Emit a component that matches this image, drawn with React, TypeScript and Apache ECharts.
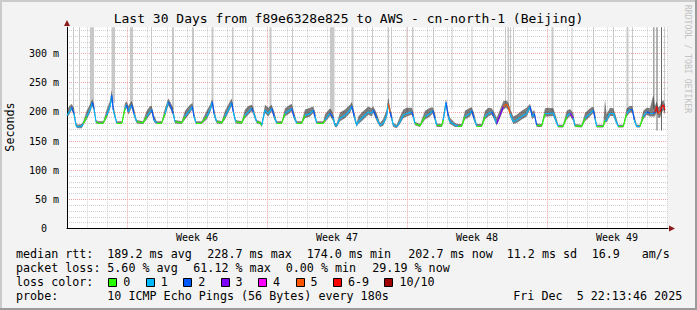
import React, { useEffect, useRef } from 'react';
import * as echarts from 'echarts';

const FONT = '"DejaVu Sans Mono", monospace';

// time in days since graph start
const times = [
  0.00, 0.125, 0.235, 0.35, 0.45, 0.525, 0.735, 0.815, 0.985, 1.15,
  1.265, 1.35, 1.45, 1.565, 1.815, 1.985, 2.15, 2.235, 2.315, 2.485,
  2.75, 2.90, 2.985, 3.065, 3.235, 3.35, 3.485, 3.80, 3.985, 4.15,
  4.235, 4.35, 4.485, 4.735, 4.90, 5.065, 5.185, 5.315, 5.40, 5.735,
  5.90, 6.15, 6.265, 6.35, 6.45, 6.735, 6.985, 7.15, 7.265, 7.35,
  7.485, 7.735, 7.90, 8.15, 8.235, 8.315, 8.435, 8.735, 8.90, 9.065,
  9.235, 9.315, 9.485, 9.65, 9.735, 9.90, 10.065, 10.235, 10.365, 10.485,
  10.735, 10.90, 11.15, 11.235, 11.35, 11.485, 11.735, 11.90, 12.15, 12.315,
  12.40, 12.485, 12.815, 12.90, 13.15, 13.315, 13.40, 13.485, 13.65, 13.90,
  14.15, 14.235, 14.365, 14.485, 14.565, 14.735, 15.065, 15.235, 15.315, 15.485,
  15.65, 15.815, 15.985, 16.065, 16.15, 16.235, 16.315, 16.485, 16.65, 16.815,
  16.985, 17.235, 17.315, 17.40, 17.65, 17.90, 18.15, 18.285, 18.40, 18.485,
  18.735, 18.815, 18.95, 19.065, 19.15, 19.40, 19.55, 19.735, 19.90, 20.15,
  20.235, 20.35, 20.485, 20.735, 20.90, 21.065, 21.235, 21.35, 21.485, 21.65,
  21.815, 21.95, 22.065, 22.15, 22.315, 22.485, 22.735, 22.985, 23.15, 23.265,
  23.365, 23.485, 23.735, 23.90, 24.065, 24.315, 24.435, 24.565, 24.80, 24.985,
  25.15, 25.315, 25.40, 25.735, 25.90, 26.15, 26.315, 26.40, 26.485, 26.815,
  26.90, 26.985, 27.15, 27.315, 27.435, 27.565, 27.815, 27.985, 28.15, 28.265,
  28.365, 28.485, 28.65, 28.815, 28.985, 29.15, 29.315, 29.40, 29.485, 29.565,
  29.65, 29.735, 29.815, 29.90,
];

// median rtt in ms
const medianMs = [
  194, 200, 208, 197, 177, 174.0, 175, 180, 192, 203,
  216, 206, 183, 181, 181, 194, 209, 228.7, 203, 181,
  181, 206, 212, 200, 212, 197, 183, 181, 192, 200,
  204, 186, 181, 181, 197, 217, 209, 197, 183, 181,
  192, 203, 209, 192, 181, 181, 192, 203, 217, 197,
  183, 181, 192, 209, 216, 200, 183, 181, 194, 200,
  206, 200, 183, 181, 177, 203, 197, 206, 192, 181,
  181, 197, 203, 206, 192, 181, 181, 194, 197, 203,
  192, 181, 181, 186, 198, 189, 177, 176, 189, 194,
  203, 210, 192, 177, 183, 189, 200, 197, 203, 189,
  177, 180, 194, 214, 200, 189, 177, 174.5, 183, 194,
  197, 200, 192, 180, 176, 192, 197, 202, 189, 177,
  176, 186, 216, 192, 183, 177, 176, 176, 192, 197,
  202, 189, 176, 176, 192, 197, 200, 192, 180, 194,
  209, 213, 209, 197, 183, 186, 192, 197, 209, 192,
  197, 177, 176, 197, 197, 198, 186, 175, 175, 192,
  198, 189, 176, 175, 189, 197, 203, 189, 175, 175,
  186, 186, 198, 198, 186, 175, 175, 197, 204, 204,
  186, 175, 175, 192, 200, 197, 197, 200, 209, 197,
  200, 209, 212, 203,
];

// lost pings out of 10
const lossCount = [
  1, 1, 2, 1, 1, 1, 1, 0, 1, 1,
  2, 1, 0, 0, 0, 1, 1, 2, 1, 0,
  0, 1, 2, 1, 2, 1, 0, 0, 1, 1,
  2, 1, 0, 0, 1, 2, 2, 1, 0, 0,
  1, 1, 2, 1, 0, 0, 1, 1, 2, 1,
  0, 0, 1, 1, 2, 1, 0, 0, 1, 1,
  2, 1, 0, 0, 1, 1, 1, 2, 1, 0,
  0, 1, 1, 2, 1, 0, 0, 1, 1, 2,
  1, 0, 0, 1, 2, 1, 1, 1, 1, 1,
  1, 2, 1, 1, 1, 1, 1, 1, 2, 1,
  1, 1, 1, 5, 2, 1, 1, 1, 1, 1,
  1, 2, 1, 0, 0, 1, 1, 2, 1, 0,
  0, 1, 2, 1, 1, 1, 0, 0, 1, 1,
  2, 1, 0, 0, 1, 1, 2, 1, 3, 3,
  5, 5, 5, 1, 1, 1, 1, 1, 2, 1,
  2, 0, 0, 1, 1, 1, 1, 0, 0, 1,
  3, 1, 0, 0, 1, 1, 2, 1, 0, 0,
  1, 1, 1, 1, 1, 0, 0, 1, 2, 2,
  1, 1, 0, 1, 2, 1, 2, 6, 6, 5,
  6, 6, 6, 3,
];

// smoke (spread of the individual pings)
const smokeHigh = [
  204, 210, 214, 206, 182, 178, 179, 184, 202, 213,
  222, 214, 186, 184, 184, 204, 219, 238, 212, 184,
  184, 215, 218, 210, 219, 206, 186, 184, 202, 210,
  210, 194, 184, 184, 206, 223, 216, 206, 186, 184,
  202, 212, 215, 200, 184, 184, 202, 212, 222, 206,
  186, 184, 202, 218, 223, 208, 186, 184, 204, 210,
  212, 208, 186, 184, 181, 212, 207, 212, 200, 184,
  184, 206, 212, 214, 200, 184, 184, 204, 207, 209,
  200, 184, 184, 196, 206, 198, 181, 180, 199, 204,
  212, 217, 200, 181, 192, 199, 209, 206, 209, 198,
  181, 188, 204, 224, 208, 198, 181, 178, 192, 204,
  207, 207, 200, 183, 179, 202, 207, 208, 198, 180,
  179, 195, 222, 200, 190, 181, 179, 179, 202, 207,
  208, 198, 179, 179, 202, 207, 206, 200, 190, 204,
  218, 220, 216, 206, 192, 195, 202, 207, 214, 200,
  203, 180, 179, 206, 207, 206, 194, 178, 178, 202,
  205, 198, 179, 178, 198, 206, 209, 198, 178, 178,
  221, 196, 207, 206, 194, 178, 178, 206, 210, 210,
  194, 178, 178, 202, 207, 206, 229, 210, 218, 208,
  210, 218, 220, 212,
];
const smokeLow = [
  190, 196, 203, 192, 174, 172, 172, 177, 187, 198,
  210, 200, 180, 179, 179, 189, 204, 220, 198, 179,
  179, 201, 207, 195, 207, 192, 180, 179, 187, 195,
  199, 182, 179, 179, 192, 211, 204, 192, 180, 179,
  187, 198, 204, 188, 179, 179, 187, 198, 211, 192,
  180, 179, 187, 204, 210, 195, 180, 179, 189, 195,
  201, 195, 180, 179, 174, 198, 192, 201, 187, 179,
  179, 192, 198, 201, 187, 179, 179, 189, 192, 198,
  187, 179, 179, 182, 193, 184, 174, 173, 184, 189,
  198, 205, 187, 174, 179, 184, 195, 192, 198, 184,
  174, 176, 189, 208, 195, 184, 174, 172, 179, 189,
  192, 195, 187, 177, 174, 187, 192, 197, 184, 174,
  174, 181, 210, 187, 179, 174, 174, 174, 187, 192,
  197, 184, 174, 174, 187, 192, 195, 187, 176, 189,
  203, 207, 203, 192, 179, 181, 187, 192, 204, 187,
  192, 174, 174, 192, 192, 193, 182, 173, 173, 187,
  193, 184, 174, 173, 184, 192, 198, 184, 173, 173,
  182, 182, 193, 193, 182, 173, 173, 192, 199, 199,
  182, 173, 173, 187, 195, 192, 192, 192, 200, 190,
  190, 198, 203, 195,
];

// outlier streaks (pings far above the visible range), in days
const spikeStart = [
  0.30, 0.60, 1.15, 2.225, 3.15, 4.20, 5.25, 6.25, 7.225, 8.25,
  9.25, 10.125, 11.25, 13.15, 14.225, 15.25, 16.05, 16.20, 16.975, 17.25,
  18.30, 19.225, 20.225, 21.30, 21.90, 22.05, 22.15, 22.30, 24.225, 25.225,
  26.30, 27.30, 27.975, 28.25, 29.30, 29.475, 29.70, 29.85,
];
const spikeEnd = [
  0.35, 0.65, 1.35, 2.40, 3.30, 4.25, 5.35, 6.35, 7.325, 8.325,
  9.325, 10.225, 11.30, 13.375, 14.325, 15.30, 16.10, 16.25, 17.025, 17.325,
  18.35, 19.275, 20.275, 21.35, 21.95, 22.10, 22.20, 22.35, 24.325, 25.275,
  26.35, 27.35, 28.075, 28.30, 29.375, 29.525, 29.75, 29.90,
];
const spikeLow = [
  205, 195, 210, 215, 210, 205, 205, 205, 210, 210,
  205, 205, 205, 200, 205, 200, 210, 205, 200, 200,
  200, 205, 200, 200, 210, 210, 205, 200, 200, 200,
  200, 200, 200, 205, 205, 168, 168, 200,
];
const spikeShade = [
  0, 0, 0, 0, 0, 0, 0, 0, 0, 0,
  0, 0, 0, 0, 0, 0, 0, 0, 0, 0,
  0, 0, 0, 0, 0, 0, 0, 0, 0, 0,
  0, 0, 0, 0, 1, 2, 2, 0,
];

const weekLabelAt = [6.5, 13.5, 20.5, 27.5];
const weekLabels = ['Week 46', 'Week 47', 'Week 48', 'Week 49'];

const lossLegendLabels = ['0', '1', '2', '3', '4', '5', '6-9', '10/10'];
const lossLegendColors = ['#26ff00', '#00b8ff', '#0059ff', '#7e00ff', '#ff00ff', '#ff5500', '#ff0000', '#a10000'];

const titleText = 'Last 30 Days from f89e6328e825 to AWS - cn-north-1 (Beijing)';
const rttLabel = 'median rtt:';
const rttStats = ['189.2 ms avg', '228.7 ms max', '174.0 ms min', '202.7 ms now', '11.2 ms sd', '16.9', 'am/s'];
const lossLabel = 'packet loss:';
const lossStats = ['5.60 % avg', '61.12 % max', '0.00 % min', '29.19 % now'];
const colorLabel = 'loss color:';
const probeLabel = 'probe:';
const probeText = '10 ICMP Echo Pings (56 Bytes) every 180s';
const dateParts = ['Fri Dec', '5 22:13:46 2025'];
const yUnitLabel = 'Seconds';
const creditText = 'RRDTOOL / TOBI OETIKER';

function lossColor(n: number): string {
  if (n >= 10) return lossLegendColors[7];
  if (n >= 6) return lossLegendColors[6];
  return lossLegendColors[n];
}

const Y_MAX = 345;
const X_MAX = 30.05;
const GRID_LEFT = 67;
const GRID_BOTTOM = 228.5;
const PX_PER_MS = 175 / 300;
const GRID_H = Y_MAX * PX_PER_MS;
const GRID_TOP = GRID_BOTTOM - GRID_H;
const GRID_W = X_MAX * 20;

const MINOR = '#cfcfcf';
const MAJOR = '#f2a3a3';
const CHAR_W = 7.04;
const LEG_FS = 11.7;

export default function App() {
  const ref = useRef<HTMLDivElement>(null);

  useEffect(() => {
    document.body.style.margin = '0';
    if (!ref.current) return;
    const chart = echarts.init(ref.current, undefined, { renderer: 'svg' });
    const n = Math.min(times.length, medianMs.length, lossCount.length, smokeHigh.length, smokeLow.length);

    const xColors: string[] = [];
    for (let i = 0; i < 14; i++) {
      xColors.push(i % 2 === 1 ? 'rgba(0,0,0,0)' : i === 6 ? MAJOR : MINOR);
    }
    const yColors = [MAJOR, MINOR, MINOR, MINOR, MINOR];

    const segs: any[] = [];
    for (let i = 0; i < n - 1; i++) {
      segs.push({
        coords: [[times[i], medianMs[i]], [times[i + 1], medianMs[i + 1]]],
        lineStyle: { color: lossColor(lossCount[i]) },
      });
    }

    const shadeColors = ['#c8c8c8', '#a2a2a2', '#686868'];
    const spikeAreas = spikeStart.map((s, i) => [
      { xAxis: s, yAxis: spikeLow[i], itemStyle: { color: shadeColors[spikeShade[i]] } },
      { xAxis: spikeEnd[i], yAxis: Y_MAX },
    ]);

    const txt = (text: string, x: number, y: number, extra: any = {}) => ({
      type: 'text',
      x,
      y,
      silent: true,
      style: {
        text,
        fontSize: LEG_FS,
        fontFamily: FONT,
        fill: '#000',
        align: 'left',
        verticalAlign: 'middle',
        textAlign: 'left',
        textVerticalAlign: 'middle',
        ...extra,
      },
    });

    const graphics: any[] = [];
    graphics.push({ type: 'rect', silent: true, shape: { x: 0, y: 0, width: 697, height: 2 }, style: { fill: '#cbcbcb' } });
    graphics.push({ type: 'rect', silent: true, shape: { x: 0, y: 0, width: 2, height: 310 }, style: { fill: '#cbcbcb' } });
    graphics.push({ type: 'rect', silent: true, shape: { x: 0, y: 308, width: 697, height: 2 }, style: { fill: '#9b9b9b' } });
    graphics.push({ type: 'rect', silent: true, shape: { x: 695, y: 0, width: 2, height: 310 }, style: { fill: '#9b9b9b' } });
    graphics.push(txt(titleText, 348.5, 18, { fontSize: 13, align: 'center', textAlign: 'center' }));
    graphics.push({
      type: 'text', x: 10, y: 127, rotation: Math.PI / 2, silent: true,
      style: { text: yUnitLabel, fontSize: LEG_FS, fontFamily: FONT, fill: '#000', align: 'center', verticalAlign: 'middle', textAlign: 'center', textVerticalAlign: 'middle' },
    });
    graphics.push({
      type: 'text', x: 688, y: 59, rotation: -Math.PI / 2, silent: true,
      style: { text: creditText, fontSize: 8.2, fontFamily: FONT, fill: '#c2c2c2', align: 'center', verticalAlign: 'middle', textAlign: 'center', textVerticalAlign: 'middle' },
    });
    graphics.push({ type: 'polygon', silent: true, shape: { points: [[67, 20], [64, 26], [70, 26]] }, style: { fill: '#8b1a1a' } });
    graphics.push({ type: 'polygon', silent: true, shape: { points: [[675, 228.5], [669, 225.5], [669, 231.5]] }, style: { fill: '#8b1a1a' } });

    const rowY = [254, 268, 282, 296];
    graphics.push(txt(rttLabel, 16, rowY[0]));
    const rttX = [107.3, 207.3, 306.7, 408.3, 506.7, 591.7, 641.7];
    rttStats.forEach((s, i) => graphics.push(txt(s, rttX[i], rowY[0])));
    graphics.push(txt(lossLabel, 16, rowY[1]));
    const lossX = [107.3, 193.3, 285.7, 372.3];
    lossStats.forEach((s, i) => graphics.push(txt(s, lossX[i], rowY[1])));
    graphics.push(txt(colorLabel, 16, rowY[2]));
    let sx = 108.3;
    lossLegendLabels.forEach((lab, i) => {
      graphics.push({
        type: 'rect', silent: true,
        shape: { x: Math.round(sx) + 0.5, y: 278.5, width: 8, height: 8 },
        style: { fill: lossLegendColors[i], stroke: '#000', lineWidth: 1 },
      });
      const lx = sx + 15;
      graphics.push(txt(lab, lx, rowY[2]));
      sx = lx + lab.length * CHAR_W + 15.4;
    });
    graphics.push(txt(probeLabel, 16, rowY[3]));
    graphics.push(txt(probeText, 107.3, rowY[3]));
    graphics.push(txt(dateParts[0], 513.3, rowY[3]));
    graphics.push(txt(dateParts[1], 513.3 + (dateParts[0].length + 2) * CHAR_W, rowY[3]));

    const smokeData = times.slice(0, n).map((t, i) => [t, smokeLow[i], smokeHigh[i]]);

    const option: any = {
      animation: false,
      backgroundColor: '#f3f3f3',
      textStyle: { fontFamily: FONT },
      grid: {
        left: GRID_LEFT,
        top: GRID_TOP,
        width: GRID_W,
        height: GRID_H,
        show: true,
        backgroundColor: '#ffffff',
        borderWidth: 0,
        containLabel: false,
        outerBoundsMode: 'none',
      },
      xAxis: {
        type: 'value',
        min: 0,
        max: X_MAX,
        interval: 0.5,
        axisLine: { show: true, onZero: false, lineStyle: { color: '#000', width: 1 } },
        axisTick: { show: false },
        axisLabel: {
          show: true,
          margin: 4,
          fontSize: 10,
          fontFamily: FONT,
          color: '#000',
          formatter: (v: number) => {
            const k = weekLabelAt.findIndex((p) => Math.abs(p - v) < 0.01);
            return k >= 0 ? weekLabels[k] : '';
          },
        },
        splitLine: { show: true, showMaxLine: false, lineStyle: { color: xColors, type: [1, 1], width: 1 } },
      },
      yAxis: {
        type: 'value',
        min: 0,
        max: Y_MAX,
        interval: 10,
        axisLine: { show: true, onZero: false, lineStyle: { color: '#000', width: 1 } },
        axisTick: { show: false },
        axisLabel: {
          show: true,
          margin: 8,
          fontSize: 10,
          fontFamily: FONT,
          color: '#000',
          formatter: (v: number) => {
            if (Math.abs(v % 50) > 0.001 || v > 300.5) return '';
            return v === 0 ? '{z|0}' : `${v} m`;
          },
          rich: { z: { fontSize: 10, fontFamily: FONT, color: '#000', padding: [0, 12, 0, 0] } },
        },
        splitLine: { show: true, showMaxLine: false, lineStyle: { color: yColors, type: [1, 1], width: 1 } },
      },
      series: [
        {
          name: 'outliers',
          type: 'line',
          symbol: 'none',
          silent: true,
          z: 1,
          lineStyle: { opacity: 0 },
          data: times.slice(0, n).map((t, i) => [t, medianMs[i]]),
          markArea: {
            silent: true,
            label: { show: false },
            emphasis: { disabled: true },
            data: spikeAreas,
          },
        },
        {
          name: 'smoke',
          type: 'custom',
          silent: true,
          z: 3,
          encode: { x: 0, y: [1, 2] },
          data: smokeData,
          renderItem: (params: any, api: any) => {
            if (params.dataIndex !== 0) return null;
            const upper = smokeData.map((d) => api.coord([d[0], d[2]]));
            const lower = smokeData.map((d) => api.coord([d[0], d[1]])).reverse();
            return {
              type: 'polygon',
              shape: { points: upper.concat(lower) },
              style: { fill: 'rgba(40,40,40,0.6)' },
            };
          },
        },
        {
          name: 'median',
          type: 'lines',
          coordinateSystem: 'cartesian2d',
          polyline: false,
          silent: true,
          z: 4,
          lineStyle: { width: 1.2, opacity: 1 },
          data: segs,
        },
      ],
      graphic: { elements: graphics },
    };

    chart.setOption(option);
    return () => chart.dispose();
  }, []);

  return <div ref={ref} style={{ position: 'absolute', left: 0, top: 0, width: 697, height: 310 }} />;
}
